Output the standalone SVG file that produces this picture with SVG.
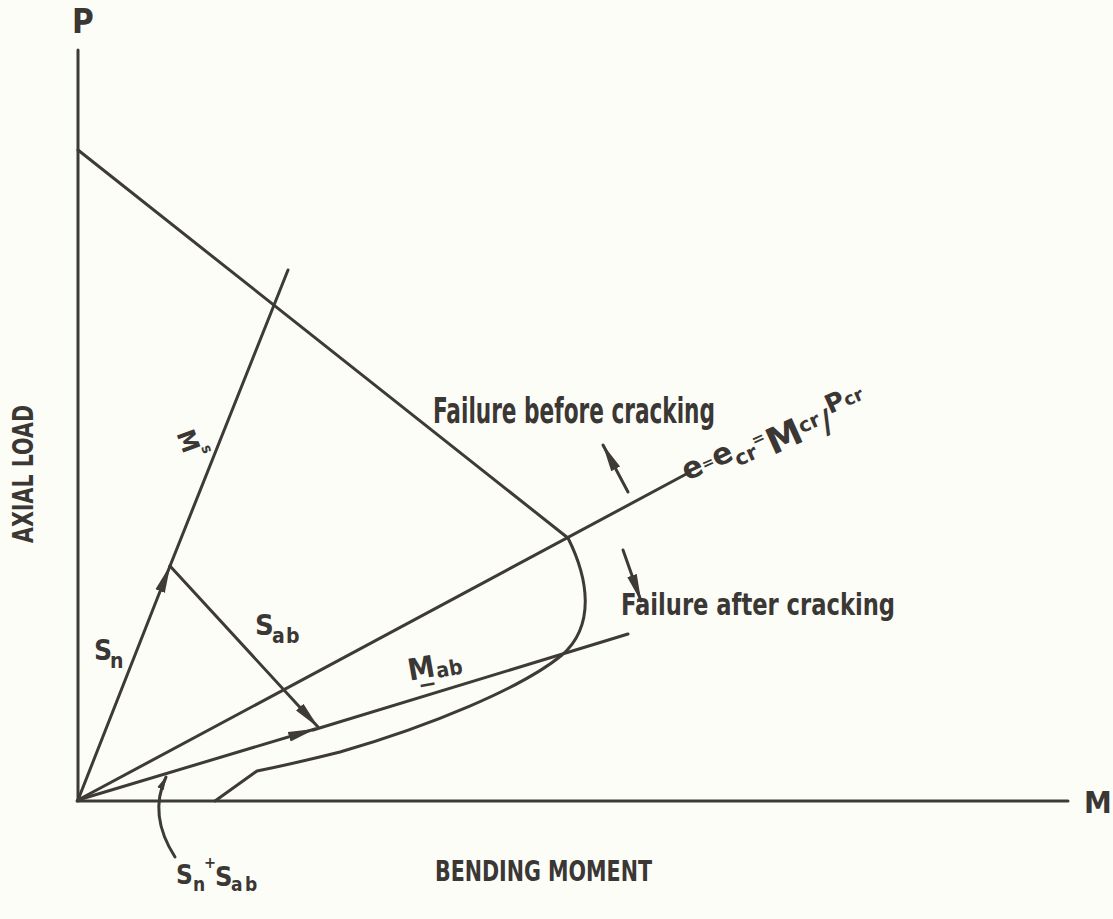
<svg xmlns="http://www.w3.org/2000/svg" width="1113" height="919" viewBox="0 0 1113 919">
<defs>
<style>
.ln{stroke:#3d3a37;stroke-width:3;fill:none;stroke-linecap:round;stroke-linejoin:round}
.t{font-family:"Liberation Sans Narrow","DejaVu Sans Condensed","Liberation Sans",sans-serif;fill:#3a3734;font-weight:bold}
</style>
<marker id="ah" markerUnits="userSpaceOnUse" markerWidth="28" markerHeight="12" refX="27" refY="6" orient="auto">
<path d="M0,1 L28,6 L0,11 Z" fill="#3d3a37"/>
</marker>
<marker id="ahs" markerUnits="userSpaceOnUse" markerWidth="14" markerHeight="8" refX="13" refY="4" orient="auto">
<path d="M0,0.5 L14,4 L0,7.5 Z" fill="#3d3a37"/>
</marker>
</defs>
<rect width="1113" height="919" fill="#fdfdf7"/>

<g id="axes">
<line class="ln" x1="78" y1="50" x2="78" y2="801"/>
<line class="ln" x1="77" y1="801" x2="1068" y2="801"/>
</g>

<g id="connectors">
<line id="failure-line" class="ln" x1="78" y1="150" x2="568" y2="538"/>
<line id="ms-line" class="ln" x1="170" y1="566" x2="288" y2="270"/>
<line id="sn-vector" class="ln" x1="78" y1="800" x2="170" y2="566" marker-end="url(#ah)"/>
<line id="sab-vector" class="ln" x1="170" y1="566" x2="318" y2="727" marker-end="url(#ah)"/>
<line id="ecr-line" class="ln" x1="78" y1="800" x2="690" y2="472"/>
<line id="mab-vector" class="ln" x1="78" y1="800" x2="315" y2="729" marker-end="url(#ah)"/>
<line id="mab-line" class="ln" x1="313" y1="730" x2="628" y2="634"/>
<path id="envelope" class="ln" d="M568,538 C588,578 596,625 562,655 C522,688 430,726 340,752 C300,762 272,768 257,771 L215,801"/>
<path id="sum-pointer" class="ln" d="M175,857 Q148,815 166,777" marker-end="url(#ahs)"/>
<line id="arrow-up" class="ln" x1="628" y1="492" x2="603" y2="445" marker-end="url(#ah)"/>
<line id="arrow-down" class="ln" x1="623" y1="550" x2="641" y2="601" marker-end="url(#ah)"/>
</g>

<g id="label-P"><text class="t" x="72" y="33" font-size="33">P</text></g>
<g id="label-M"><text class="t" x="1084" y="813" font-size="31">M</text></g>
<g id="label-axial"><text class="t" transform="translate(33,543) rotate(-90)" font-size="29" textLength="138" lengthAdjust="spacingAndGlyphs">AXIAL LOAD</text></g>
<g id="label-bending"><text class="t" x="435" y="881" font-size="29" textLength="217" lengthAdjust="spacingAndGlyphs">BENDING MOMENT</text></g>
<g id="label-before"><text class="t" x="433" y="423" font-size="35" textLength="282" lengthAdjust="spacingAndGlyphs">Failure before cracking</text></g>
<g id="label-after"><text class="t" x="621" y="615" font-size="31" textLength="274" lengthAdjust="spacingAndGlyphs">Failure after cracking</text></g>

<g id="label-ecr">
<text class="t" transform="translate(687,481) rotate(-24.3)" font-size="30" textLength="196" lengthAdjust="spacingAndGlyphs">e<tspan font-size="15" dy="-3">=</tspan><tspan dy="3">e</tspan><tspan font-size="21" dy="8">cr</tspan><tspan font-size="16" dy="-12">=</tspan><tspan font-size="36" dy="16">M</tspan><tspan font-size="20" dy="-8">cr</tspan><tspan font-size="32" dy="10">/</tspan><tspan font-size="26" dy="-16">P</tspan><tspan font-size="18" dy="0">cr</tspan></text>
</g>

<g id="label-Ms">
<text class="t" transform="translate(188,441) rotate(70)" font-size="25" text-anchor="middle" dominant-baseline="central">M</text>
<text class="t" transform="translate(207,449) rotate(70)" font-size="15" text-anchor="middle" dominant-baseline="central">s</text>
</g>

<g id="label-Sn">
<text class="t" x="94" y="660" font-size="28">S</text>
<text class="t" x="110" y="668" font-size="21">n</text>
</g>

<g id="label-Sab">
<text class="t" x="255" y="635" font-size="29">S</text>
<text class="t" x="272" y="643" font-size="21">a</text>
<text class="t" x="286" y="643" font-size="21">b</text>
</g>

<g id="label-Mab" transform="rotate(-10 425 670)">
<text class="t" x="408" y="678" font-size="30">M</text>
<line x1="418" y1="685" x2="432" y2="685" stroke="#3a3734" stroke-width="2.5"/>
<text class="t" x="436" y="680" font-size="21">a</text>
<text class="t" x="449" y="680" font-size="21">b</text>
</g>

<g id="label-sum">
<text class="t" x="176" y="884" font-size="26">S</text>
<text class="t" x="193" y="891" font-size="19">n</text>
<text class="t" x="204" y="868" font-size="16">+</text>
<text class="t" x="215" y="886" font-size="27">S</text>
<text class="t" x="231" y="891" font-size="19">a</text>
<text class="t" x="245" y="891" font-size="19">b</text>
</g>
</svg>
